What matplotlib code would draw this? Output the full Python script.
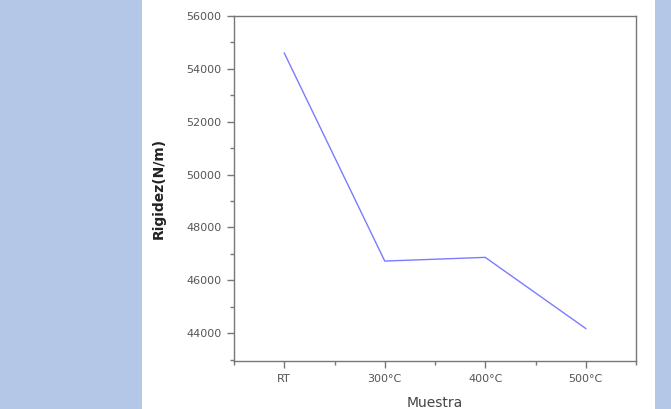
import matplotlib
matplotlib.use("Agg")
import matplotlib.pyplot as plt
from matplotlib.patches import Rectangle
from matplotlib.ticker import MultipleLocator, FixedLocator

# datos
muestras = ["RT", "300°C", "400°C", "500°C"]
rigidez = [54600, 46730, 46870, 44180]

W, H = 671, 409
BLUE = "#b4c7e7"
GRAY = "#555555"

fig = plt.figure(figsize=(W / 100, H / 100), dpi=100)
fig.patch.set_facecolor("white")

# paneles azules de fondo (diapositiva)
fig.patches.append(Rectangle((0, 0), 142 / W, 1, transform=fig.transFigure,
                             facecolor=BLUE, edgecolor="none", zorder=0))
fig.patches.append(Rectangle((655 / W, 0), 16 / W, 1, transform=fig.transFigure,
                             facecolor=BLUE, edgecolor="none", zorder=0))

left, right, top, bottom = 234 / W, 636 / W, 1 - 16 / H, 1 - 361 / H
ax = fig.add_axes([left, bottom, right - left, top - bottom])

x = list(range(len(muestras)))
ax.plot(x, rigidez, color="#7b7bff", lw=1.0)

ax.set_xlim(-0.5, len(muestras) - 0.5)
ax.set_ylim(42950, 56000)
ax.set_xticks(x)
ax.set_xticklabels(muestras)
ax.xaxis.set_minor_locator(FixedLocator([-0.5, 0.5, 1.5, 2.5, 3.5]))
ax.yaxis.set_major_locator(MultipleLocator(2000))
ax.yaxis.set_minor_locator(MultipleLocator(1000))

for s in ax.spines.values():
    s.set_color("#777777")
    s.set_linewidth(1.0)
ax.tick_params(which="major", direction="out", length=5, width=1.0,
               color="#777777", labelsize=8, labelcolor=GRAY, pad=4)
ax.tick_params(which="minor", direction="out", length=3, width=1.0,
               color="#777777")

ax.set_ylabel("Rigidez(N/m)", fontsize=10, fontweight="bold", color="#222222",
              labelpad=15)
ax.set_xlabel("Muestra", fontsize=10, color="#444444", labelpad=9)

fig.savefig("out.png", dpi=100)
